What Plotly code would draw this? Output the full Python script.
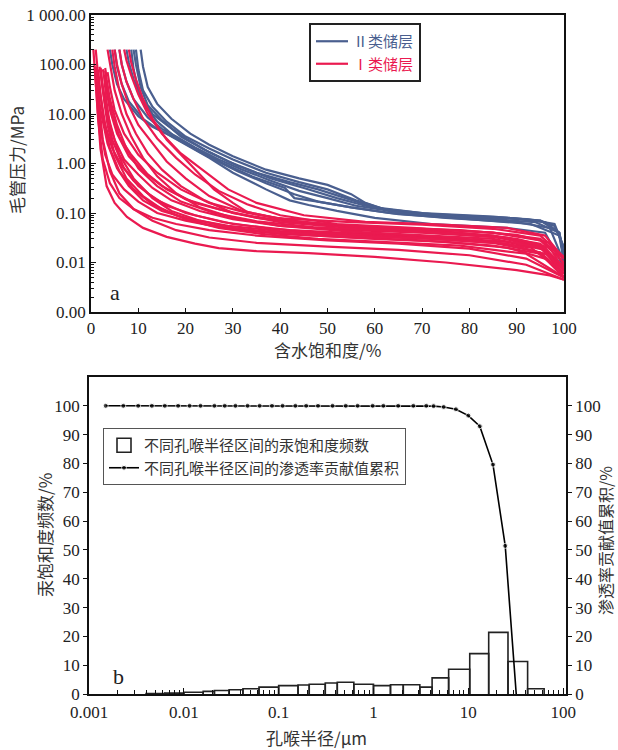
import plotly.graph_objects as go

# ---------------- Panel a: capillary pressure curves ----------------
# Class II reservoir (blue) curves: water saturation (%) and capillary pressure (MPa)
class2_sw = [
    [10.5, 11, 12, 14, 17, 21, 25, 30, 37, 44, 50, 55, 58, 63, 72, 88, 95, 98, 100],
    [9.5, 10, 11, 13, 16, 20, 25, 30, 37, 44, 50, 56, 62, 72, 88, 96, 99, 100],
    [9, 9.5, 10.5, 12, 15, 19, 24, 29, 35, 42, 48, 54, 60, 70, 85, 95, 99, 100],
    [8.5, 9, 10, 11.5, 14, 18, 23, 28, 34, 41, 43, 48, 55, 63, 75, 90, 97, 100],
    [4, 4.5, 5.5, 7, 10, 13, 16, 20, 25, 30, 37, 42, 46, 52, 60, 72, 88, 96, 100],
    [5, 5.5, 6.5, 8, 11, 14, 17, 21, 26, 31, 37, 43, 48, 55, 65, 80, 93, 99, 100],
    [6, 6.5, 7.5, 9, 12, 15, 18, 22, 27, 32, 38, 44, 50, 56, 66, 80, 94, 99, 100],
    [7.5, 8, 9, 10.5, 13, 16, 20, 25, 31, 38, 45, 52, 58, 66, 78, 92, 98, 100],
]
class2_pc = [
    [200, 90, 35, 16, 8, 4, 2.4, 1.4, 0.75, 0.5, 0.37, 0.24, 0.16, 0.11, 0.09, 0.08, 0.07, 0.055, 0.02],
    [200, 80, 30, 14, 7, 3.5, 2.0, 1.2, 0.65, 0.42, 0.3, 0.18, 0.12, 0.095, 0.08, 0.065, 0.04, 0.015],
    [200, 100, 35, 15, 7.5, 3.5, 1.9, 1.1, 0.65, 0.42, 0.3, 0.2, 0.13, 0.1, 0.085, 0.07, 0.04, 0.012],
    [200, 80, 30, 14, 7, 3.3, 1.7, 1.0, 0.55, 0.32, 0.2, 0.17, 0.13, 0.1, 0.08, 0.065, 0.05, 0.01],
    [200, 100, 40, 20, 9, 5.5, 4, 2.4, 1.3, 0.65, 0.3, 0.18, 0.145, 0.11, 0.08, 0.06, 0.05, 0.04, 0.008],
    [200, 90, 40, 18, 8, 5, 3.6, 2.2, 1.2, 0.7, 0.4, 0.24, 0.17, 0.13, 0.095, 0.075, 0.06, 0.035, 0.01],
    [200, 100, 45, 20, 8.5, 5, 3.5, 2.1, 1.2, 0.75, 0.45, 0.28, 0.2, 0.14, 0.1, 0.08, 0.065, 0.04, 0.012],
    [200, 110, 50, 22, 10, 6, 3.2, 1.7, 0.9, 0.5, 0.32, 0.2, 0.14, 0.1, 0.085, 0.075, 0.06, 0.02],
]

# Class I reservoir (red) curves
class1_sw = [
    [0.5, 0.8, 1.2, 2, 3.3, 5, 7.6, 11, 16, 22, 27, 35, 46, 60, 75, 90, 97, 100],
    [0.8, 1, 1.5, 2.5, 4, 6, 9, 13, 18, 25, 35, 50, 65, 80, 92, 100],
    [1, 1.3, 2, 3, 4.5, 7, 10, 14, 20, 28, 40, 55, 70, 85, 95, 100],
    [1.5, 2, 3, 4.5, 6.5, 9, 12, 16, 22, 30, 42, 58, 75, 88, 96, 100],
    [2, 2.5, 3.5, 5, 7, 10, 13, 17, 23, 30, 40, 55, 70, 85, 95, 100],
    [2.5, 3, 4, 5.5, 8, 11, 15, 20, 27, 35, 48, 62, 78, 90, 97, 100],
    [3, 3.5, 4.5, 6, 8.5, 12, 16, 22, 30, 40, 55, 70, 85, 95, 100],
    [3.5, 4, 5, 7, 10, 14, 19, 25, 33, 45, 60, 75, 88, 96, 100],
    [1, 1.5, 2.5, 4, 6, 9, 13, 18, 24, 32, 45, 60, 75, 88, 96, 100],
    [1.8, 2.2, 3, 4.5, 7, 10, 14, 20, 28, 38, 52, 68, 82, 93, 100],
    [0.8, 1.2, 2, 3.5, 5.5, 8, 11, 15, 21, 29, 40, 55, 70, 85, 95, 100],
    [5, 5.5, 6.5, 8, 10, 13, 16, 20, 25, 32, 42, 55, 70, 85, 95, 100],
    [6, 6.5, 7.5, 9, 11, 14, 18, 22, 27, 33, 40, 52, 68, 85, 95, 100],
    [7, 7.5, 8.5, 10, 12, 15, 19, 24, 29, 35, 45, 58, 72, 88, 96, 100],
    [4.5, 5, 6, 7.5, 9.5, 12, 15, 19, 24, 30, 40, 55, 70, 85, 95, 100],
    [8, 8.5, 9.5, 11, 13, 16, 20, 23, 26, 30, 33, 39, 54, 70, 85, 95, 100],
    [3.5, 4, 5, 6.5, 8.5, 11, 14, 18, 23, 30, 40, 55, 70, 85, 95, 100],
    [1.2, 1.6, 2.5, 4, 6, 9, 13, 18, 25, 35, 50, 65, 80, 92, 100],
    [2, 2.5, 3.5, 5, 7.5, 11, 15, 20, 27, 36, 48, 62, 78, 92, 100],
    [3, 3.3, 4, 5.5, 7.5, 10, 14, 19, 26, 35, 47, 62, 77, 90, 97, 100],
    [2.8, 3.2, 4, 6, 9, 13, 17, 23, 30, 40, 55, 72, 88, 97, 100],
]
class1_pc = [
    [200, 80, 20, 2, 0.35, 0.16, 0.083, 0.05, 0.033, 0.024, 0.0195, 0.017, 0.0155, 0.013, 0.01, 0.007, 0.0055, 0.0045],
    [85, 40, 8, 1.2, 0.4, 0.2, 0.12, 0.08, 0.06, 0.045, 0.035, 0.028, 0.024, 0.019, 0.012, 0.005],
    [90, 30, 5, 1.5, 0.6, 0.3, 0.17, 0.1, 0.07, 0.05, 0.038, 0.032, 0.028, 0.022, 0.015, 0.006],
    [80, 25, 6, 2, 0.9, 0.45, 0.25, 0.14, 0.09, 0.06, 0.045, 0.038, 0.032, 0.026, 0.018, 0.007],
    [85, 35, 10, 3, 1.2, 0.6, 0.32, 0.18, 0.11, 0.075, 0.055, 0.045, 0.04, 0.033, 0.022, 0.008],
    [80, 40, 12, 4, 1.4, 0.7, 0.35, 0.19, 0.12, 0.08, 0.058, 0.05, 0.045, 0.036, 0.025, 0.009],
    [75, 30, 10, 3.5, 1.5, 0.6, 0.3, 0.16, 0.1, 0.07, 0.052, 0.045, 0.035, 0.02, 0.006],
    [70, 35, 12, 4, 1.5, 0.65, 0.3, 0.16, 0.1, 0.065, 0.05, 0.042, 0.032, 0.02, 0.007],
    [200, 60, 10, 2, 0.7, 0.3, 0.15, 0.09, 0.06, 0.045, 0.036, 0.03, 0.026, 0.02, 0.012, 0.005],
    [90, 50, 15, 3, 0.8, 0.35, 0.18, 0.1, 0.065, 0.048, 0.038, 0.033, 0.028, 0.02, 0.006],
    [90, 50, 12, 2.5, 0.8, 0.35, 0.18, 0.11, 0.075, 0.055, 0.043, 0.036, 0.031, 0.025, 0.016, 0.006],
    [200, 100, 40, 15, 6, 2.5, 1.1, 0.5, 0.22, 0.11, 0.07, 0.055, 0.048, 0.04, 0.028, 0.01],
    [200, 100, 45, 20, 8, 3.2, 1.3, 0.6, 0.28, 0.15, 0.09, 0.06, 0.05, 0.04, 0.03, 0.012],
    [200, 120, 60, 25, 10, 4, 1.6, 0.7, 0.3, 0.16, 0.09, 0.066, 0.06, 0.05, 0.035, 0.012],
    [200, 90, 30, 10, 4, 1.6, 0.75, 0.35, 0.18, 0.1, 0.065, 0.05, 0.043, 0.035, 0.024, 0.008],
    [200, 110, 50, 20, 8, 3, 1.2, 0.6, 0.3, 0.16, 0.105, 0.079, 0.066, 0.058, 0.048, 0.035, 0.013],
    [200, 100, 30, 10, 3.5, 1.3, 0.55, 0.25, 0.13, 0.08, 0.055, 0.042, 0.036, 0.03, 0.02, 0.007],
    [70, 20, 3, 0.7, 0.25, 0.12, 0.07, 0.045, 0.032, 0.025, 0.021, 0.018, 0.014, 0.009, 0.0045],
    [85, 30, 6, 1.5, 0.5, 0.22, 0.12, 0.075, 0.05, 0.038, 0.03, 0.026, 0.022, 0.015, 0.005],
    [85, 50, 20, 6, 2, 0.8, 0.35, 0.17, 0.1, 0.068, 0.052, 0.044, 0.038, 0.03, 0.02, 0.007],
    [60, 20, 6, 1.5, 0.5, 0.2, 0.11, 0.07, 0.05, 0.04, 0.034, 0.03, 0.024, 0.014, 0.005],
]

pc_tickvals = [0.001, 0.01, 0.1, 1, 10, 100, 1000]
pc_ticktext = ["0.00", "0.01", "0.10", "1.00", "10.00", "100.00", "1 000.00"]
sw_tickvals = [0, 10, 20, 30, 40, 50, 60, 70, 80, 90, 100]

# ---------------- Panel b: pore throat radius distribution ----------------
bin_left = [0.004, 0.0063, 0.01, 0.016, 0.021, 0.03, 0.042, 0.062, 0.1, 0.16, 0.21, 0.31, 0.415,
            0.62, 1.0, 1.51, 2.06, 3.08, 4.15, 6.2, 10.35, 16.4, 26.2, 42.2]
bin_right = [0.0063, 0.01, 0.016, 0.021, 0.03, 0.042, 0.062, 0.1, 0.16, 0.21, 0.31, 0.415, 0.62,
             1.0, 1.51, 2.06, 3.08, 4.15, 6.2, 10.35, 16.4, 26.2, 42.2, 63.0]
hg_freq = [0.15, 0.3, 0.6, 0.9, 1.2, 1.5, 1.8, 2.4, 2.9, 3.1, 3.4, 3.8, 4.1,
           3.4, 2.9, 3.2, 3.2, 2.4, 5.6, 8.6, 14.0, 21.4, 11.3, 1.8]

perm_r = [0.0015, 0.0023, 0.0033, 0.0046, 0.0063, 0.0087, 0.0115, 0.015, 0.021, 0.027, 0.035,
          0.047, 0.063, 0.085, 0.11, 0.15, 0.195, 0.26, 0.37, 0.51, 0.68, 0.98, 1.27, 1.82,
          2.63, 3.6, 4.3, 5.5, 7.4, 10.0, 13.2, 18.2, 24.5, 32.0]
perm_cum = [100, 100, 100, 100, 100, 100, 100, 100, 100, 100, 100,
            100, 100, 100, 100, 100, 100, 100, 100, 100, 100, 100, 100, 100,
            100, 100, 99.9, 99.6, 98.8, 96.6, 92.9, 79.6, 51.4, 0]
r_tickvals = [0.001, 0.01, 0.1, 1, 10, 100]
r_ticktext = ["0.001", "0.01", "0.1", "1", "10", "100"]
pct_tickvals = [0, 10, 20, 30, 40, 50, 60, 70, 80, 90, 100]

# ---------------- styling ----------------
W, H = 618, 750
BLUE = "#4a5f8f"
RED = "#ea1a50"
NUM_FONT = "Liberation Serif, Noto Sans CJK SC, serif"
CJK_FONT = "Noto Sans CJK SC, Liberation Serif, serif"


def px_x(p):
    return p / W


def px_y(p):
    return 1 - p / H


fig = go.Figure()

for i, (sw, pc) in enumerate(zip(class2_sw, class2_pc)):
    fig.add_trace(go.Scatter(
        x=sw, y=pc, mode="lines", xaxis="x", yaxis="y",
        line=dict(color=BLUE, width=2.2),
        name="<span style='color:%s'>Ⅱ类储层</span>" % BLUE,
        legendgroup="c2", showlegend=(i == 0), legend="legend"))

for i, (sw, pc) in enumerate(zip(class1_sw, class1_pc)):
    fig.add_trace(go.Scatter(
        x=sw, y=pc, mode="lines", xaxis="x", yaxis="y",
        line=dict(color=RED, width=2.2),
        name="<span style='color:%s'>Ⅰ类储层</span>" % RED,
        legendgroup="c1", showlegend=(i == 0), legend="legend"))

# histogram outline built from bin edges
hx, hy = [], []
for a, b, h in zip(bin_left, bin_right, hg_freq):
    hx += [a, a, b, b, None]
    hy += [0, h, h, 0, None]
fig.add_trace(go.Scatter(
    x=hx, y=hy, mode="lines", xaxis="x2", yaxis="y2", fill="toself",
    fillcolor="white", line=dict(color="#222", width=1.6),
    name="不同孔喉半径区间的汞饱和度频数", legendgroup="h", showlegend=False))
# legend entry for the histogram (open rectangle symbol)
fig.add_trace(go.Scatter(
    x=[None], y=[None], mode="markers", xaxis="x2", yaxis="y2",
    marker=dict(symbol="square-open", size=14, color="#222", line=dict(width=1.6)),
    name="不同孔喉半径区间的汞饱和度频数", legendgroup="h", legend="legend2"))

fig.add_trace(go.Scatter(
    x=perm_r, y=perm_cum, mode="lines+markers", xaxis="x2", yaxis="y3",
    line=dict(color="black", width=1.6),
    marker=dict(color="black", size=[5] * (len(perm_r) - 1) + [0]),
    name="不同孔喉半径区间的渗透率贡献值累积", legend="legend2"))

axis_common = dict(showline=True, linecolor="#111", linewidth=1.6, mirror=True,
                   showgrid=False, zeroline=False, ticks="inside", tickcolor="#111",
                   automargin=False,
                   tickfont=dict(family=NUM_FONT, size=17, color="#222"))

fig.update_layout(
    width=W, height=H, margin=dict(l=0, r=0, t=0, b=0, pad=0, autoexpand=False),
    paper_bgcolor="white", plot_bgcolor="white",
    xaxis=dict(domain=[px_x(91), px_x(564)], anchor="y", range=[0, 100],
               tickvals=sw_tickvals, ticklen=4, **axis_common),
    yaxis=dict(domain=[px_y(312), px_y(15)], anchor="x", type="log", range=[-3, 3],
               tickvals=pc_tickvals, ticktext=pc_ticktext, ticklen=5,
               minor=dict(dtick="D1", ticks="inside", ticklen=3, tickcolor="#111"),
               **axis_common),
    xaxis2=dict(domain=[px_x(89), px_x(566)], anchor="y2", type="log", range=[-3, 2.03],
                tickvals=r_tickvals, ticktext=r_ticktext, ticklen=6, ticklabelstandoff=2,
                minor=dict(dtick="D1", ticks="inside", ticklen=4, tickcolor="#111"),
                **axis_common),
    yaxis2=dict(domain=[px_y(694), px_y(377)], anchor="x2", range=[0, 110],
                tickvals=pct_tickvals, **{**axis_common, "ticks": "outside"}, ticklen=4),
    yaxis3=dict(overlaying="y2", anchor="x2", side="right", range=[0, 110],
                tickvals=pct_tickvals, showline=True, linecolor="#111", linewidth=1.6,
                showgrid=False, zeroline=False, ticks="outside", ticklen=4, tickcolor="#111",
                automargin=False,
                tickfont=dict(family=NUM_FONT, size=17, color="#222")),
    legend=dict(x=px_x(309), y=px_y(23), xanchor="left", yanchor="top",
                bgcolor="white", bordercolor="#222", borderwidth=2,
                font=dict(family=CJK_FONT, size=15), tracegroupgap=0,
                itemwidth=32, traceorder="normal"),
    legend2=dict(x=px_x(103), y=px_y(428), xanchor="left", yanchor="top",
                 bgcolor="white", bordercolor="#555", borderwidth=1,
                 font=dict(family=CJK_FONT, size=15, color="#333"),
                 itemwidth=30, traceorder="normal", tracegroupgap=0),
    showlegend=True,
)

ann = [
    dict(text="含水饱和度/%", x=px_x(327), y=px_y(349), font=dict(family=CJK_FONT, size=17, color="#333")),
    dict(text="毛管压力/MPa", x=px_x(16), y=px_y(160), textangle=-90,
         font=dict(family=CJK_FONT, size=17, color="#333")),
    dict(text="a", x=px_x(115), y=px_y(292), font=dict(family=NUM_FONT, size=22, color="#222")),
    dict(text="孔喉半径/μm", x=px_x(316), y=px_y(737), font=dict(family=CJK_FONT, size=17, color="#333")),
    dict(text="汞饱和度频数/%", x=px_x(44), y=px_y(535), textangle=-90,
         font=dict(family=CJK_FONT, size=17, color="#333")),
    dict(text="渗透率贡献值累积/%", x=px_x(605), y=px_y(541), textangle=-90,
         font=dict(family=CJK_FONT, size=16, color="#333")),
    dict(text="b", x=px_x(118), y=px_y(676), font=dict(family=NUM_FONT, size=22, color="#222")),
]
for a in ann:
    a.update(xref="paper", yref="paper", showarrow=False, xanchor="center", yanchor="middle")
fig.update_layout(annotations=ann)

# remove the default 8 px page margin so the figure fills the 618x750 window exactly
fig.write_html("out.html", config={"displayModeBar": False},
               post_script="document.body.style.margin='0';document.body.style.overflow='hidden';")
